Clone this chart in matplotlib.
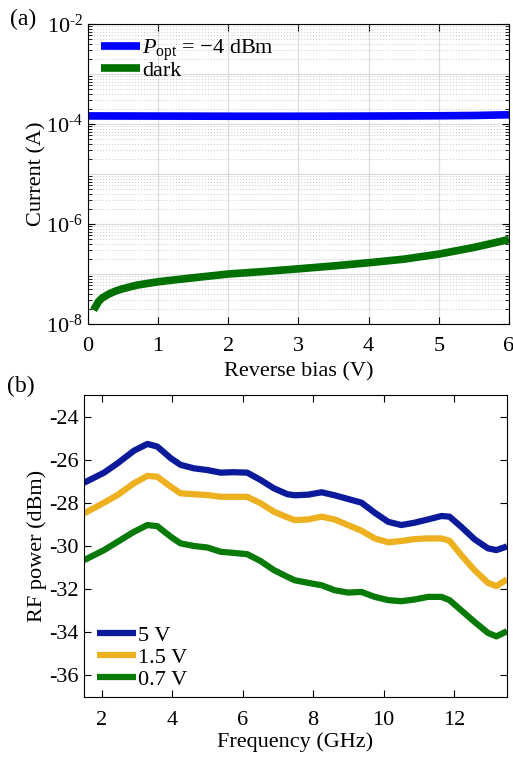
import matplotlib
matplotlib.use("Agg")
import matplotlib.pyplot as plt
import numpy as np
from matplotlib.ticker import FixedLocator, FuncFormatter, LogLocator, NullFormatter

plt.rcParams['font.family'] = ['Liberation Serif', 'DejaVu Serif']
plt.rcParams['mathtext.fontset'] = 'custom'
plt.rcParams['mathtext.rm'] = 'Liberation Serif'
plt.rcParams['mathtext.it'] = 'Liberation Serif:italic'

# ---- Panel (a) data ----
bias_light = [0.0, 1.0, 2.0, 3.0, 4.0, 5.0, 5.5, 6.0]
current_light = [1.45e-4, 1.44e-4, 1.43e-4, 1.43e-4, 1.44e-4, 1.46e-4, 1.48e-4, 1.53e-4]
bias_dark = [0.08, 0.15, 0.2, 0.3, 0.4, 0.5, 0.7, 1.0, 1.5, 2.0, 2.5, 3.0, 3.5, 4.0, 4.5, 5.0, 5.5, 6.0]
current_dark = [1.9e-8, 2.8e-8, 3.3e-8, 4.0e-8, 4.6e-8, 5.1e-8, 6.0e-8, 7.0e-8, 8.4e-8,
                1.0e-7, 1.12e-7, 1.27e-7, 1.45e-7, 1.68e-7, 1.98e-7, 2.5e-7, 3.4e-7, 4.9e-7]
light_label = r'$P_{\mathrm{opt}}$ = $-$4 dBm'
dark_label = 'dark'

# ---- Panel (b) data ----
freq = [1.5, 2.07, 2.45, 2.92, 3.3, 3.58, 3.96, 4.24, 4.62, 5.0, 5.38, 5.75, 6.13, 6.51, 6.89,
        7.27, 7.48, 7.86, 8.24, 8.61, 8.99, 9.37, 9.75, 10.13, 10.5, 10.88, 11.26, 11.64, 11.87,
        12.2, 12.58, 12.96, 13.2, 13.5]
rf_5v = [-27.07, -26.6, -26.17, -25.58, -25.27, -25.39, -25.93, -26.24, -26.4, -26.48, -26.6,
         -26.58, -26.6, -26.94, -27.33, -27.6, -27.65, -27.62, -27.51, -27.65, -27.82, -27.99,
         -28.46, -28.88, -29.03, -28.92, -28.77, -28.61, -28.64, -29.11, -29.69, -30.11, -30.19,
         -30.02]
rf_1p5v = [-28.49, -27.99, -27.64, -27.09, -26.75, -26.79, -27.25, -27.56, -27.6, -27.64, -27.72,
           -27.72, -27.72, -28.02, -28.41, -28.67, -28.8, -28.77, -28.64, -28.77, -29.03, -29.29,
           -29.65, -29.83, -29.77, -29.68, -29.65, -29.65, -29.76, -30.42, -31.12, -31.71, -31.86,
           -31.55]
rf_0p7v = [-30.66, -30.19, -29.81, -29.34, -29.03, -29.08, -29.57, -29.88, -30.0, -30.07, -30.27,
           -30.32, -30.38, -30.7, -31.12, -31.43, -31.59, -31.71, -31.82, -32.05, -32.16, -32.13,
           -32.36, -32.51, -32.56, -32.48, -32.36, -32.36, -32.51, -32.98, -33.52, -34.03, -34.19,
           -33.95]
rf_labels = ['5 V', '1.5 V', '0.7 V']
rf_colors = ['#0a1a9a', '#edb120', '#087a08']

fig = plt.figure(figsize=(5.13, 7.59), dpi=100)
FS = 16

# ---------- top axes ----------
ax1 = fig.add_axes([0.1715, 0.5731, 0.8207, 0.3953])
ax1.semilogy(bias_light, current_light, color='#0000ff', lw=5.5, label=light_label,
             solid_capstyle='butt', solid_joinstyle='round')
ax1.semilogy(bias_dark, current_dark, color='#007000', lw=5.5, label=dark_label,
             solid_capstyle='butt', solid_joinstyle='round')
ax1.set_xlim(0, 6)
ax1.set_ylim(1e-8, 1e-2)
ax1.xaxis.set_major_locator(FixedLocator([0, 1, 2, 3, 4, 5, 6]))
ax1.yaxis.set_major_locator(FixedLocator([1e-8, 1e-6, 1e-4, 1e-2]))
ax1.yaxis.set_major_formatter(FuncFormatter(lambda v, p: r'10$^{\text{%d}}$' % int(round(np.log10(v)))))
ax1.yaxis.set_minor_locator(LogLocator(base=10, subs=np.arange(2, 10), numticks=20))
ax1.yaxis.set_minor_formatter(NullFormatter())
ax1.grid(True, which='major', axis='both', color='#dcdcdc', lw=0.9, ls='-')
ax1.yaxis.grid(True, which='minor', color='#c8c8c8', lw=0.7, ls=(0, (1, 2)))
for d in [1e-7, 1e-5, 1e-3]:
    ax1.axhline(d, color='#dcdcdc', lw=0.9, zorder=0.5)
ax1.set_axisbelow(True)
ax1.tick_params(which='both', direction='in', top=True, right=True, labelsize=FS)
ax1.tick_params(which='major', length=5, width=0.8)
ax1.tick_params(which='minor', length=3, width=0.6)
ax1.tick_params(axis='x', which='major', pad=9)
ax1.set_xlabel('Reverse bias (V)', fontsize=FS, labelpad=5)
ax1.set_ylabel('Current (A)', fontsize=FS, labelpad=0)
ax1.legend(loc='upper left', frameon=False, fontsize=FS, handlelength=1.75,
           handletextpad=0.1, borderaxespad=0.2, labelspacing=-0.12)
fig.text(0.02, 0.988, '(a)', fontsize=FS + 1, va='top', ha='left')

# ---------- bottom axes ----------
ax2 = fig.add_axes([0.1637, 0.0817, 0.8246, 0.3979])
for y, lab, c in zip([rf_5v, rf_1p5v, rf_0p7v], rf_labels, rf_colors):
    ax2.plot(freq, y, color=c, lw=4.5, label=lab, solid_capstyle='butt', solid_joinstyle='round')
ax2.set_xlim(1.5, 13.5)
ax2.set_ylim(-37, -23)
ax2.set_xticks([2, 4, 6, 8, 10, 12])
ax2.set_yticks([-24, -26, -28, -30, -32, -34, -36])
ax2.yaxis.set_major_formatter(FuncFormatter(lambda v, p: '%d' % v))
ax2.tick_params(direction='in', top=True, right=True, labelsize=FS, length=5, width=0.8)
ax2.tick_params(axis='x', pad=10)
ax2.set_xlabel('Frequency (GHz)', fontsize=FS, labelpad=2)
ax2.set_ylabel('RF power (dBm)', fontsize=FS, labelpad=2)
ax2.legend(loc='lower left', frameon=False, fontsize=FS, handlelength=1.75,
           handletextpad=0.1, borderaxespad=0.0, labelspacing=0.05,
           bbox_to_anchor=(0.01, -0.005))
fig.text(0.013, 0.505, '(b)', fontsize=FS + 1, va='top', ha='left')

fig.savefig('out.png', dpi=100)
